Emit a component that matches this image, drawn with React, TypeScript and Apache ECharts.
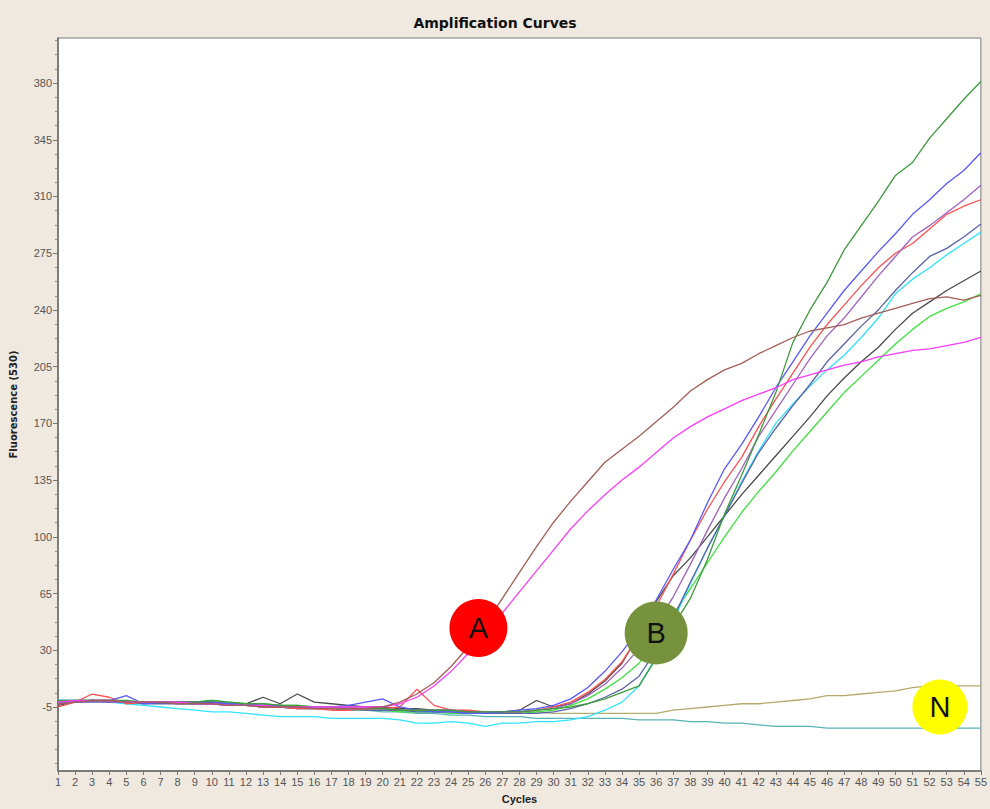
import React, { useEffect, useRef } from "react";
import * as echarts from "echarts";

// Cycle numbers 1..55
const cycles: number[] = [
  1, 2, 3, 4, 5, 6, 7, 8, 9, 10, 11, 12, 13, 14, 15, 16, 17, 18, 19, 20,
  21, 22, 23, 24, 25, 26, 27, 28, 29, 30, 31, 32, 33, 34, 35, 36, 37, 38, 39, 40,
  41, 42, 43, 44, 45, 46, 47, 48, 49, 50, 51, 52, 53, 54, 55,
];

const yTickLabels: number[] = [-5, 30, 65, 100, 135, 170, 205, 240, 275, 310, 345, 380];

// Fluorescence (530) readings per well
const brown: number[] = [
  -3, -2, -1, -1, -2, -2, -2, -3, -3, -3, -4, -4, -5, -5, -5, -6, -6, -6, -6, -5,
  -2, 3, 10, 20, 32, 46, 62, 78, 94, 109, 122, 134, 146, 154, 162, 171, 180, 190, 197, 203,
  207, 213, 218, 223, 227, 229, 231, 235, 238, 241, 244, 247, 248, 246, 249,
];
const magenta: number[] = [
  -2, -1, -1, -1, -2, -2, -2, -2, -3, -3, -4, -4, -4, -5, -5, -5, -5, -5, -5, -5,
  -3, 1, 8, 17, 28, 40, 53, 66, 79, 92, 105, 116, 126, 135, 143, 152, 161, 168, 174, 179,
  184, 188, 192, 197, 200, 203, 206, 208, 211, 213, 215, 216, 218, 220, 223,
];
const darkGreen: number[] = [
  -1, -1, -1, -1, -1, -2, -2, -2, -2, -1, -2, -3, -3, -4, -4, -5, -5, -5, -6, -6,
  -7, -7, -7, -7, -8, -8, -8, -8, -7,
  -6, -5, -3, 0, 4, 8, 25, 45, 62, 86, 114, 138, 163, 189, 220, 240, 257, 277, 292, 307,
  323, 331, 346, 358, 370, 381,
];
const blue: number[] = [
  -2, -2, -1, -1, 2, -3, -2, -2, -2, -2, -3, -3, -4, -4, -5, -5, -5, -4, -2, 0,
  -5, -7, -8, -8, -9, -9, -8,
  -7, -6, -4, 0, 7, 17, 29, 43, 61, 80, 98, 121, 142, 157, 174, 192, 208, 224, 238, 252,
  264, 276, 287, 299, 308, 318, 326, 337,
];
const purple: number[] = [
  -3, -2, -1, -2, -2, -2, -2, -2, -3, -3, -3, -4, -4, -4, -5, -5, -5, -6, -6, -6,
  -7, -7, -7, -7, -8, -8, -8, -8, -7,
  -6, -3, 2, 9, 19, 31, 46, 63, 83, 104, 124, 142, 162, 178, 194, 210, 224, 235, 248, 261,
  273, 285, 292, 300, 308, 317,
];
const red: number[] = [
  -5, -2, 3, 1, -3, -2, -2, -2, -2, -3, -3, -4, -5, -5, -6, -6, -7, -7, -6, -6,
  -5, 6, -4, -7, -7, -8, -8, -8, -7,
  -5, -2, 4, 12, 23, 39, 57, 77, 98, 117, 134, 149, 168, 185, 201, 217, 231, 243, 255, 266,
  275, 281, 290, 299, 304, 308,
];
const slate: number[] = [
  -3, -2, -2, -2, -2, -3, -3, -3, -3, -3, -4, -4, -5, -5, -6, -6, -6, -6, -7, -7,
  -7, -8, -8, -8, -9, -9, -9, -9, -9,
  -8, -6, -3, 1, 6, 14, 30, 50, 72, 93, 113, 133, 152, 167, 181, 194, 208, 219, 230, 240,
  252, 263, 273, 278, 285, 293,
];
const cyan: number[] = [
  -1, -1, -1, -2, -3, -4, -5, -6, -7, -8, -8, -9, -10, -11, -11, -11, -12, -12, -12, -12,
  -13, -15, -15, -14, -15, -17, -15, -15, -14,
  -14, -13, -11, -7, -2, 8, 26, 48, 71, 93, 113, 134, 153, 170, 182, 193, 203, 212, 223, 235,
  250, 259, 266, 274, 281, 288,
];
const darkGray: number[] = [
  -4, -2, -1, -2, -2, -2, -2, -2, -2, -2, -3, -3, 1, -3, 3, -2, -3, -4, -5, -5,
  -6, -6, -7, -7, -8, -8, -8, -7, -1,
  -5, -3, 3, 11, 22, 40, 60, 76, 87, 100, 113, 126, 138, 150, 162, 174, 187, 198, 208, 217,
  228, 238, 245, 252, 258, 264,
];
const lightGreen: number[] = [
  -2, -1, -1, -1, -2, -2, -2, -2, -2, -1, -2, -3, -3, -4, -4, -5, -6, -6, -7, -7,
  -8, -8, -8, -9, -9, -9, -9, -9, -8,
  -7, -4, 0, 6, 13, 22, 36, 52, 68, 84, 100, 115, 128, 140, 153, 165, 177, 189, 199, 209,
  219, 228, 236, 241, 245, 250,
];
const olive: number[] = [
  -2, -1, -1, -1, -2, -2, -2, -2, -2, -2, -3, -3, -4, -4, -5, -5, -5, -6, -6, -6,
  -7, -7, -7, -8, -8, -8,
  -8, -8, -8, -9, -9, -9, -9, -9, -9, -9, -7, -6, -5, -4, -3, -3, -2, -1, 0, 2,
  2, 3, 4, 5, 7, 8, 8, 8, 8,
];
const teal: number[] = [
  -1, -1, -1, -1, -2, -2, -2, -3, -3, -3, -4, -4, -5, -5, -6, -6, -6, -7, -7, -8,
  -8, -9, -9, -10, -10, -11,
  -11, -11, -12, -12, -12, -12, -12, -12, -13, -13, -13, -14, -14, -15, -15, -16, -17, -17,
  -17, -18, -18, -18, -18, -18, -18, -18, -18, -18, -18,
];

// Group markers: label, cycle, fluorescence
const markerLabels: string[] = ["A", "B", "N"];
const markerCycles: number[] = [25.6, 36.0, 52.6];
const markerValues: number[] = [43.8, 40.7, -5];

const curves: { values: number[]; color: string }[] = [
  { values: teal, color: "#5ab3b3" },
  { values: olive, color: "#b3ab6b" },
  { values: lightGreen, color: "#3ee23e" },
  { values: darkGray, color: "#4a4a4a" },
  { values: cyan, color: "#2fe4ff" },
  { values: slate, color: "#5a62a8" },
  { values: red, color: "#ff4f4f" },
  { values: purple, color: "#a062c2" },
  { values: blue, color: "#5858ff" },
  { values: darkGreen, color: "#3c9b3c" },
  { values: magenta, color: "#ff3cff" },
  { values: brown, color: "#a35e58" },
];

const markerStyles = [
  { color: "#ff0000", size: 58 },
  { color: "#76923c", size: 63 },
  { color: "#ffff00", size: 55 },
];

// minor ticks every 8.75 between labelled values
const minorTicks: number[] = [];
for (let i = 0; i < yTickLabels.length - 1; i++) {
  for (let k = 1; k < 4; k++) minorTicks.push(yTickLabels[i] + k * 8.75);
}
minorTicks.push(-13.75, -22.5, -31.25, -40, 388.75, 397.5, 406.25);

const Y_MIN = -44.5;
const Y_MAX = 407.8;

export default function App() {
  const ref = useRef<HTMLDivElement>(null);

  useEffect(() => {
    if (!ref.current) return;
    const chart = echarts.init(ref.current, null, { renderer: "svg" });

    const lineSeries = curves.map((c) => ({
      type: "line" as const,
      data: c.values.map((v, i) => [cycles[i], v]),
      showSymbol: false,
      symbol: "none",
      lineStyle: { color: c.color, width: 1.3 },
      itemStyle: { color: c.color },
      yAxisIndex: 0,
      z: 2,
    }));

    const markerSeries = markerLabels.map((lab, i) => ({
      type: "scatter" as const,
      data: [[markerCycles[i], markerValues[i]]],
      symbol: "circle",
      symbolSize: markerStyles[i].size,
      itemStyle: { color: markerStyles[i].color, opacity: 1 },
      label: {
        show: true,
        position: "inside" as const,
        formatter: lab,
        color: "#111",
        fontSize: 29,
        fontFamily: "Liberation Sans, Arial, sans-serif",
      },
      z: 10,
    }));

    chart.setOption({
      animation: false,
      backgroundColor: "#efe9e0",
      title: {
        text: "Amplification Curves",
        left: "center",
        top: 11,
        textStyle: {
          fontFamily: "DejaVu Sans",
          fontWeight: "bold",
          fontSize: 14,
          color: "#111",
        },
      },
      grid: {
        left: 57,
        right: 9,
        top: 38,
        bottom: 38,
        show: true,
        backgroundColor: "#ffffff",
        borderColor: "#7a7a7a",
        borderWidth: 1,
      },
      xAxis: {
        type: "value",
        min: 1,
        max: 55,
        interval: 1,
        name: "Cycles",
        nameLocation: "middle",
        nameGap: 22,
        nameTextStyle: {
          fontFamily: "Liberation Sans, Arial, sans-serif",
          fontWeight: "bold",
          fontSize: 11,
          color: "#222",
        },
        axisLine: { show: true, onZero: false, lineStyle: { color: "#6a6a6a", width: 1.5 } },
        axisTick: { show: true, length: 4, lineStyle: { color: "#777" } },
        axisLabel: {
          color: "#555",
          fontSize: 11,
          margin: 5,
          fontFamily: "Liberation Sans, Arial, sans-serif",
          hideOverlap: false,
        },
        splitLine: { show: false },
      },
      yAxis: [
        {
          type: "value",
          min: Y_MIN,
          max: Y_MAX,
          name: "Fluorescence (530)",
          nameLocation: "middle",
          nameGap: 40,
          nameRotate: 90,
          nameTextStyle: {
            fontFamily: "DejaVu Sans",
            fontWeight: "bold",
            fontSize: 10,
            color: "#222",
          },
          axisLine: { show: true, onZero: false, lineStyle: { color: "#6a6a6a", width: 1.5 } },
          axisTick: {
            show: true,
            length: 5,
            customValues: yTickLabels,
            lineStyle: { color: "#777" },
          },
          axisLabel: {
            color: "#555",
            fontSize: 11,
            margin: 6,
            customValues: yTickLabels,
            fontFamily: "Liberation Sans, Arial, sans-serif",
          },
          splitLine: { show: false },
        },
        {
          type: "value",
          min: Y_MIN,
          max: Y_MAX,
          position: "left",
          axisLine: { show: false, onZero: false },
          axisTick: {
            show: true,
            length: 3,
            customValues: minorTicks,
            lineStyle: { color: "#888" },
          },
          axisLabel: { show: false, customValues: minorTicks },
          splitLine: { show: false },
        },
      ],
      series: [...lineSeries, ...markerSeries],
    });

    return () => chart.dispose();
  }, []);

  return (
    <div
      ref={ref}
      style={{ position: "fixed", left: 0, top: 0, width: 990, height: 809 }}
    />
  );
}
